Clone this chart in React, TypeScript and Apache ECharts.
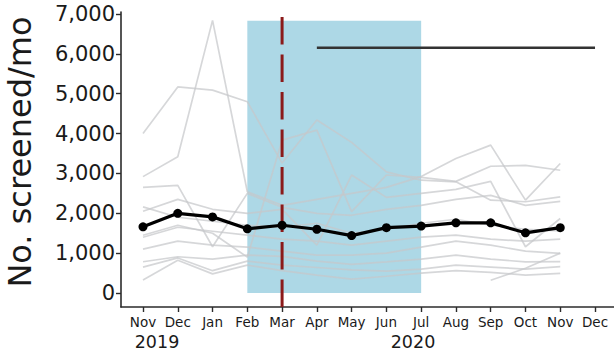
import React, { useEffect, useRef } from "react";
import * as echarts from "echarts";

// Month axis, Nov 2019 through Dec 2020
const MONTHS = ["Nov", "Dec", "Jan", "Feb", "Mar", "Apr", "May", "Jun", "Jul", "Aug", "Sep", "Oct", "Nov", "Dec"];
const YEARS = ["2019", "2020"];
const Y_TICKS = [0, 1000, 2000, 3000, 4000, 5000, 6000, 7000];

// Monthly average screened across sites (Nov 2019 - Nov 2020)
const MEAN = [1660, 2000, 1910, 1610, 1700, 1600, 1440, 1640, 1680, 1760, 1760, 1510, 1640];

// Individual sites
const SITE_A = [4000, 5170, 5090, 4800, 3260, 4340, 3780, 3040, 2830, 2790, 2330, 2290, 2410];
const SITE_B = [2920, 3420, 6840, 2540, 2200, 2350, 2500, 2650, 2920, 3375, 3710, 2330, 3250];
const SITE_C = [2650, 2700, 1160, 2500, 2150, 2000, 1950, 2100, 2200, 2350, 2450, 2200, 2300];
const SITE_D = [1450, 1700, 1500, 900, 3835, 4085, 2040, 2960, 2900, 2800, 3180, 3200, 3080];
const SITE_E = [2050, 2350, 2100, 2000, 2100, 1200, 2960, 2400, 2500, 2600, 2800, 1160, 1870];
const SITE_F = [2160, 1900, 1800, 1700, 1650, 1750, 1500, 1600, 1750, 1850, 1700, 1600, 1560];
const SITE_G = [1400, 1650, 1550, 1450, 1350, 1300, 1200, 1300, 1400, 1450, 1350, 1300, 1350];
const SITE_H = [1100, 1300, 1200, 1150, 1050, 950, 950, 1000, 1150, 1300, 1200, 1050, 995];
const SITE_I = [785, 910, 850, 950, 920, 800, 720, 780, 850, 950, 850, 780, 785];
const SITE_J = [650, 880, 560, 800, 700, 640, 580, 550, 600, 700, 650, 600, 660];
const SITE_K = [325, 820, 480, 700, 560, 450, 350, 420, 500, 560, 520, 450, 494];
const SITE_L = [null, null, null, null, null, null, null, null, null, null, 320, 620, 1000];
const SITES = [SITE_A, SITE_B, SITE_C, SITE_D, SITE_E, SITE_F, SITE_G, SITE_H, SITE_I, SITE_J, SITE_K, SITE_L];

// Restriction period (Feb - Jul 2020), onset (Mar 2020) and target level
const PERIOD_START = 3;
const PERIOD_END = 8;
const PERIOD_TOP = 6830;
const ONSET = 4;
const ONSET_TOP = 6950;
const TARGET = 6150;
const TARGET_START = 5;
const TARGET_END = 13;

const Y_MIN = -351;
const Y_MAX = 7050;
const X_MIN = -0.633;
const X_MAX = 13.546;

const FONT = "DejaVu Sans";
const TEXT = "#1a1a1a";
const AXIS = "#2b2b2b";

export default function App() {
  const ref = useRef<HTMLDivElement>(null);

  useEffect(() => {
    if (!ref.current) return;
    const chart = echarts.init(ref.current, undefined, { renderer: "svg" });
    const idx = MONTHS.map((_, i) => i);

    const siteSeries = SITES.map((s, k) => ({
      type: "line",
      name: "site" + k,
      data: s.map((v, i) => [i, v]),
      symbol: "none",
      silent: true,
      z: 2,
      connectNulls: false,
      lineStyle: { color: "rgba(198,200,202,0.72)", width: 1.7 },
    }));

    chart.setOption({
      animation: false,
      grid: { left: 121, right: 0, top: 12, bottom: 48, containLabel: false },
      xAxis: {
        type: "value",
        min: X_MIN,
        max: X_MAX,
        splitLine: { show: false },
        axisLine: { show: true, onZero: false, lineStyle: { color: AXIS, width: 1.6 } },
        axisTick: { show: true, length: 5, customValues: idx, lineStyle: { color: AXIS, width: 1.4 } },
        axisLabel: {
          customValues: idx,
          formatter: (v: number) => MONTHS[Math.round(v)],
          fontFamily: FONT,
          fontSize: 13.5,
          color: TEXT,
          margin: 8,
        },
      },
      yAxis: {
        type: "value",
        min: Y_MIN,
        max: Y_MAX,
        splitLine: { show: false },
        axisLine: { show: true, onZero: false, lineStyle: { color: AXIS, width: 1.6 } },
        axisTick: { show: true, length: 5, customValues: Y_TICKS, lineStyle: { color: AXIS, width: 1.4 } },
        axisLabel: {
          customValues: Y_TICKS,
          formatter: (v: number) => v.toLocaleString("en-US"),
          fontFamily: FONT,
          fontSize: 21,
          color: TEXT,
          margin: 6,
        },
      },
      series: [
        {
          type: "line",
          name: "period",
          data: [],
          silent: true,
          z: 1,
          markArea: {
            silent: true,
            itemStyle: { color: "#add8e6", opacity: 1 },
            data: [[{ coord: [PERIOD_START, 0] }, { coord: [PERIOD_END, PERIOD_TOP] }]],
          },
        },
        ...siteSeries,
        {
          type: "line",
          name: "onset",
          data: [[ONSET, Y_MIN], [ONSET, ONSET_TOP]],
          symbol: "none",
          silent: true,
          z: 3,
          lineStyle: { color: "#8b1a1a", width: 3, type: [27.5, 10] },
        },
        {
          type: "line",
          name: "target",
          data: [[TARGET_START, TARGET], [TARGET_END, TARGET]],
          symbol: "none",
          silent: true,
          z: 3,
          lineStyle: { color: "#333333", width: 2.5 },
        },
        {
          type: "line",
          name: "mean",
          data: MEAN.map((v, i) => [i, v]),
          symbol: "circle",
          symbolSize: 9,
          silent: true,
          z: 5,
          itemStyle: { color: "#000000" },
          lineStyle: { color: "#000000", width: 3.2 },
        },
      ],
      graphic: [
        {
          type: "text",
          x: 20,
          y: 152,
          rotation: Math.PI / 2,
          style: {
            text: "No. screened/mo",
            fontFamily: FONT,
            fontSize: 32,
            fill: TEXT,
            align: "center",
            verticalAlign: "middle",
          },
        },
        {
          type: "text",
          x: 157,
          y: 342,
          style: { text: YEARS[0], fontFamily: FONT, fontSize: 17.5, fill: TEXT, align: "center", verticalAlign: "middle" },
        },
        {
          type: "text",
          x: 413,
          y: 342,
          style: { text: YEARS[1], fontFamily: FONT, fontSize: 17.5, fill: TEXT, align: "center", verticalAlign: "middle" },
        },
      ],
    });

    return () => chart.dispose();
  }, []);

  return (
    <div
      ref={ref}
      style={{ position: "fixed", left: 0, top: 0, width: 614, height: 355, background: "#ffffff" }}
    />
  );
}
